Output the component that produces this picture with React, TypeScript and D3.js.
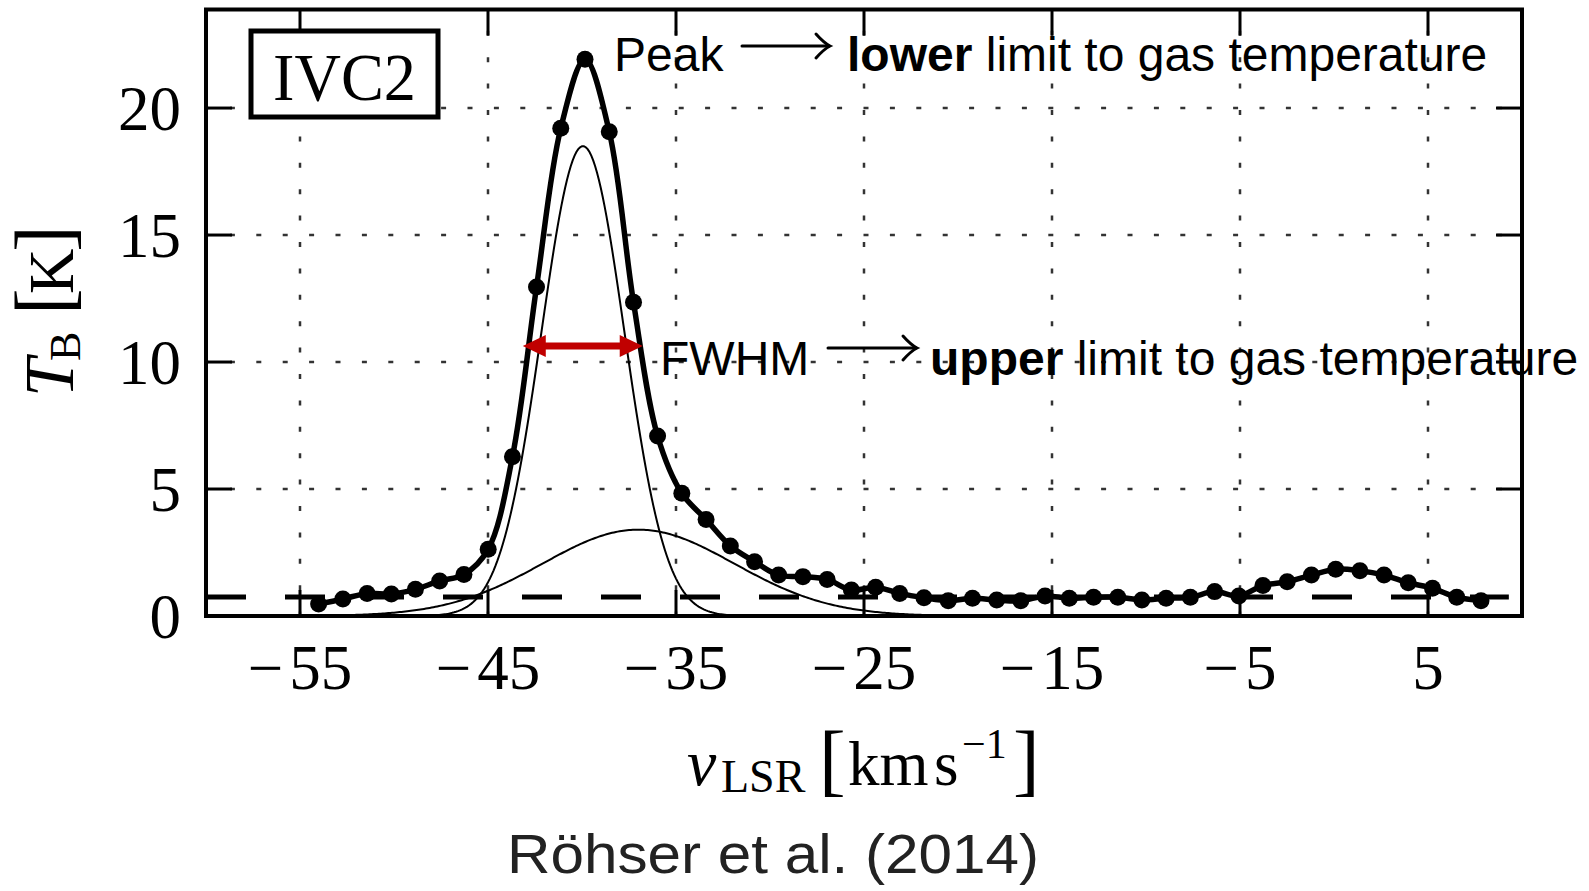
import React from "react";
import * as d3 from "d3";

// Canvas
const WIDTH = 1589;
const HEIGHT = 891;

// Plot frame (pixels)
const PLOT_LEFT = 206;
const PLOT_RIGHT = 1522;
const PLOT_TOP = 9.5;
const PLOT_BOTTOM = 616;

// Axis domains
const X_DOMAIN = [-60, 10];
const Y_DOMAIN = [0, 23.88];

// Spectrum channels: LSR velocity [km/s]
const velocity = [
  -54.01, -52.72, -51.43, -50.14, -48.86, -47.57, -46.28, -44.99, -43.7, -42.42,
  -41.13, -39.84, -38.55, -37.26, -35.98, -34.69, -33.4, -32.11, -30.82, -29.54,
  -28.25, -26.96, -25.67, -24.38, -23.1, -21.81, -20.52, -19.23, -17.94, -16.66,
  -15.37, -14.08, -12.79, -11.5, -10.22, -8.93, -7.64, -6.35, -5.06, -3.78,
  -2.49, -1.2, 0.09, 1.38, 2.66, 3.95, 5.24, 6.53, 7.82,
];

// Brightness temperature T_B [K] per channel
const brightness = [
  0.47, 0.67, 0.89, 0.87, 1.05, 1.38, 1.63, 2.63, 6.27, 12.95,
  19.2, 21.92, 19.07, 12.35, 7.09, 4.83, 3.8, 2.76, 2.14, 1.61,
  1.55, 1.44, 1.02, 1.13, 0.89, 0.72, 0.6, 0.7, 0.63, 0.6,
  0.79, 0.7, 0.74, 0.74, 0.63, 0.7, 0.74, 0.96, 0.79, 1.2,
  1.35, 1.61, 1.84, 1.78, 1.61, 1.31, 1.09, 0.74, 0.6,
];

// Gaussian decomposition of the IVC line (amplitude [K], centre [km/s], sigma [km/s])
const componentAmplitude = [18.5, 3.4];
const componentCenter = [-39.95, -37.0];
const componentSigma = [2.2, 5.1];

// Noise threshold line
const noiseLevel = 0.75;
const noiseExtent = [-60, 9.3];

// FWHM marker
const fwhmBounds = [-43.15, -36.77];
const fwhmLevel = 10.63;

// Ticks
const xTicks = [-55, -45, -35, -25, -15, -5, 5];
const yTicks = [0, 5, 10, 15, 20];

const SERIF = "'Liberation Serif', 'Times New Roman', serif";
const SANS = "'Liberation Sans', Arial, sans-serif";

const x = d3.scaleLinear().domain(X_DOMAIN).range([PLOT_LEFT, PLOT_RIGHT]);
const y = d3.scaleLinear().domain(Y_DOMAIN).range([PLOT_BOTTOM, PLOT_TOP]);

const gaussian = (v: number, a: number, c: number, s: number) =>
  a * Math.exp(-((v - c) * (v - c)) / (2 * s * s));

function LongArrow({ x1, x2, yPos }: { x1: number; x2: number; yPos: number }) {
  const head = `M${x2 - 14},${yPos - 12} Q${x2 - 6},${yPos - 3} ${x2},${yPos} Q${x2 - 6},${yPos + 3} ${x2 - 14},${yPos + 12}`;
  return (
    <g stroke="#000" fill="none" strokeWidth={3} strokeLinecap="round">
      <line x1={x1} x2={x2 - 1} y1={yPos} y2={yPos} />
      <path d={head} />
    </g>
  );
}

function DoubleArrow({ xl, xr, yPos }: { xl: number; xr: number; yPos: number }) {
  const hl = 23;
  const hw = 11;
  const sw = 3.5;
  const d = [
    `M${xl},${yPos}`,
    `L${xl + hl},${yPos - hw}`,
    `L${xl + hl},${yPos - sw}`,
    `L${xr - hl},${yPos - sw}`,
    `L${xr - hl},${yPos - hw}`,
    `L${xr},${yPos}`,
    `L${xr - hl},${yPos + hw}`,
    `L${xr - hl},${yPos + sw}`,
    `L${xl + hl},${yPos + sw}`,
    `L${xl + hl},${yPos + hw}`,
    "Z",
  ].join(" ");
  return <path d={d} fill="#c00000" />;
}

export default function App() {
  const samples = d3.range(X_DOMAIN[0], X_DOMAIN[1] + 0.001, 0.1);

  const componentPaths = componentAmplitude.map((a, i) => {
    const line = d3
      .line<number>()
      .x((v) => x(v))
      .y((v) => y(gaussian(v, a, componentCenter[i], componentSigma[i])));
    return line(samples) as string;
  });

  const spectrumPath = d3
    .line<number>()
    .x((_, i) => x(velocity[i]))
    .y((t) => y(t))
    .curve(d3.curveCatmullRom.alpha(0.5))(brightness) as string;

  const tickLen = 26;

  return (
    <svg
      width={WIDTH}
      height={HEIGHT}
      viewBox={`0 0 ${WIDTH} ${HEIGHT}`}
      style={{ position: "absolute", left: 0, top: 0, background: "#fff" }}
    >
      <defs>
        <clipPath id="plot-area">
          <rect
            x={PLOT_LEFT}
            y={PLOT_TOP}
            width={PLOT_RIGHT - PLOT_LEFT}
            height={PLOT_BOTTOM - PLOT_TOP}
          />
        </clipPath>
      </defs>
      <rect width={WIDTH} height={HEIGHT} fill="#fff" />

      {/* dotted grid */}
      <g stroke="#333" strokeWidth={2.5} fill="none">
        {xTicks.map((t) => (
          <line
            key={`gx${t}`}
            x1={x(t)}
            x2={x(t)}
            y1={PLOT_TOP}
            y2={PLOT_BOTTOM}
            strokeDasharray="5 21.4"
            strokeDashoffset={5.1}
          />
        ))}
        {yTicks
          .filter((t) => t > 0)
          .map((t) => (
            <line
              key={`gy${t}`}
              x1={PLOT_LEFT}
              x2={PLOT_RIGHT}
              y1={y(t)}
              y2={y(t)}
              strokeDasharray="5 21.4"
              strokeDashoffset={2.5}
            />
          ))}
      </g>

      <g clipPath="url(#plot-area)">
        {/* noise threshold */}
        <line
          x1={x(noiseExtent[0])}
          x2={x(noiseExtent[1])}
          y1={y(noiseLevel)}
          y2={y(noiseLevel)}
          stroke="#000"
          strokeWidth={5}
          strokeDasharray="40 39"
        />
        {/* Gaussian components */}
        {componentPaths.map((d, i) => (
          <path key={`c${i}`} d={d} fill="none" stroke="#000" strokeWidth={2} />
        ))}
        {/* observed spectrum */}
        <path d={spectrumPath} fill="none" stroke="#000" strokeWidth={5.5} />
        {brightness.map((t, i) => (
          <circle key={`p${i}`} cx={x(velocity[i])} cy={y(t)} r={8.5} fill="#000" />
        ))}
      </g>

      {/* ticks */}
      <g stroke="#000" strokeWidth={3}>
        {xTicks.map((t) => (
          <g key={`tx${t}`}>
            <line x1={x(t)} x2={x(t)} y1={PLOT_BOTTOM} y2={PLOT_BOTTOM - tickLen} />
            <line x1={x(t)} x2={x(t)} y1={PLOT_TOP} y2={PLOT_TOP + tickLen} />
          </g>
        ))}
        {yTicks.map((t) => (
          <g key={`ty${t}`}>
            <line x1={PLOT_LEFT} x2={PLOT_LEFT + tickLen} y1={y(t)} y2={y(t)} />
            <line x1={PLOT_RIGHT} x2={PLOT_RIGHT - tickLen} y1={y(t)} y2={y(t)} />
          </g>
        ))}
      </g>

      {/* frame */}
      <rect
        x={PLOT_LEFT}
        y={PLOT_TOP}
        width={PLOT_RIGHT - PLOT_LEFT}
        height={PLOT_BOTTOM - PLOT_TOP}
        fill="none"
        stroke="#000"
        strokeWidth={4}
      />

      {/* tick labels */}
      <g fontFamily={SERIF} fontSize={63} fill="#000">
        {xTicks.map((t) => (
          <text key={`lx${t}`} x={x(t)} y={689} textAnchor="middle">
            {t < 0 ? (
              <>
                <tspan>−</tspan>
                <tspan dx={6}>{Math.abs(t)}</tspan>
              </>
            ) : (
              <tspan>{t}</tspan>
            )}
          </text>
        ))}
        {yTicks.map((t) => (
          <text key={`ly${t}`} x={181} y={y(t) + 22} textAnchor="end">
            {t}
          </text>
        ))}
      </g>

      {/* x axis title */}
      <g fontFamily={SERIF} fill="#000">
        <text x={687} y={785} fontSize={66} fontStyle="italic">v</text>
        <text x={721} y={792} fontSize={46}>LSR</text>
        <text x={819} y={786} fontSize={80}>[</text>
        <text x={848} y={785} fontSize={63}>km</text>
        <text x={934} y={785} fontSize={63}>s</text>
        <text x={962} y={758} fontSize={42}>−1</text>
        <text x={1013} y={786} fontSize={80}>]</text>
      </g>

      {/* y axis title */}
      <g fontFamily={SERIF} fill="#000" transform="translate(73,397) rotate(-90)">
        <text x={0} y={0} fontSize={70} fontStyle="italic">T</text>
        <text x={36} y={7} fontSize={44}>B</text>
        <text x={82} y={-3} fontSize={80}>[</text>
        <text x={103} y={0} fontSize={63}>K</text>
        <text x={145} y={-3} fontSize={80}>]</text>
      </g>

      {/* cloud label */}
      <rect x={251} y={31} width={187} height={86} fill="#fff" stroke="#000" strokeWidth={5} />
      <text
        x={344.5}
        y={99.5}
        textAnchor="middle"
        fontFamily={SERIF}
        fontSize={67}
        fill="#000"
        textLength={143}
        lengthAdjust="spacingAndGlyphs"
      >
        IVC2
      </text>

      {/* annotations */}
      <g fontFamily={SANS} fontSize={48} fill="#000">
        <text x={614} y={71}>Peak</text>
        <text x={847} y={71}>
          <tspan fontWeight="bold">lower</tspan>
          <tspan> limit to gas temperature</tspan>
        </text>
        <text x={660} y={375}>FWHM</text>
        <text x={930} y={375}>
          <tspan fontWeight="bold">upper</tspan>
          <tspan> limit to gas temperature</tspan>
        </text>
      </g>
      <LongArrow x1={742} x2={830} yPos={46} />
      <LongArrow x1={828} x2={917} yPos={348} />
      <DoubleArrow xl={x(fwhmBounds[0])} xr={x(fwhmBounds[1])} yPos={y(fwhmLevel)} />

      {/* reference */}
      <text
        x={773}
        y={873}
        textAnchor="middle"
        fontFamily={SANS}
        fontSize={56}
        fill="#222"
        textLength={532}
        lengthAdjust="spacingAndGlyphs"
      >
        Röhser et al. (2014)
      </text>
    </svg>
  );
}
